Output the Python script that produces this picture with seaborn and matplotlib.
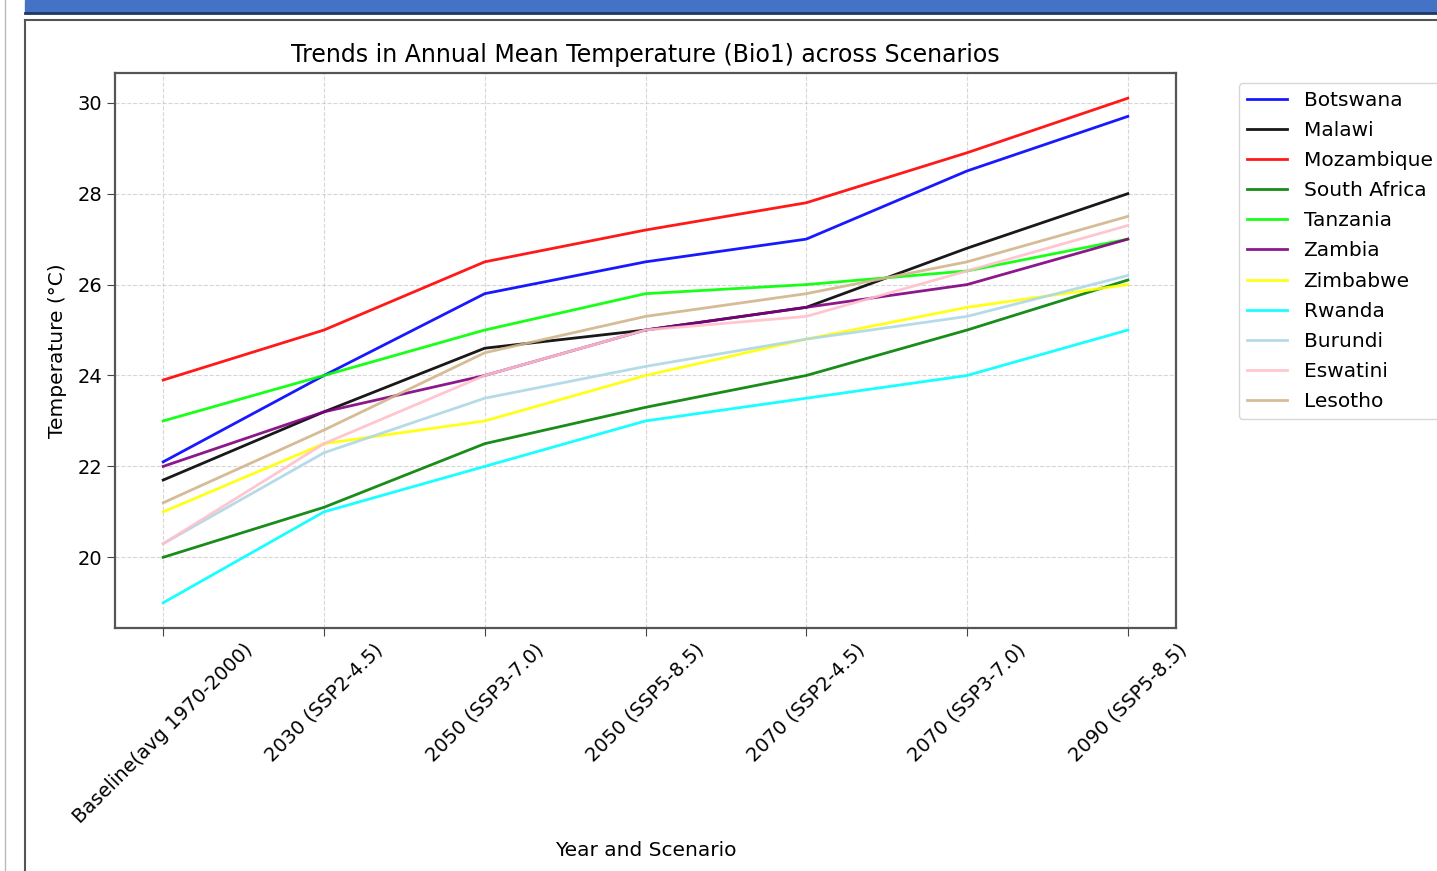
import matplotlib
matplotlib.use("Agg")
import matplotlib.pyplot as plt
import matplotlib.patches as mpatches
import pandas as pd
import seaborn as sns

# scenarios on the x axis
scenarios = ["Baseline(avg 1970-2000)", "2030 (SSP2-4.5)", "2050 (SSP3-7.0)",
             "2050 (SSP5-8.5)", "2070 (SSP2-4.5)", "2070 (SSP3-7.0)", "2090 (SSP5-8.5)"]

# annual mean temperature (Bio1), degC
botswana     = [22.1, 24.0, 25.8, 26.5, 27.0, 28.5, 29.7]
malawi       = [21.7, 23.2, 24.6, 25.0, 25.5, 26.8, 28.0]
mozambique   = [23.9, 25.0, 26.5, 27.2, 27.8, 28.9, 30.1]
south_africa = [20.0, 21.1, 22.5, 23.3, 24.0, 25.0, 26.1]
tanzania     = [23.0, 24.0, 25.0, 25.8, 26.0, 26.3, 27.0]
zambia       = [22.0, 23.2, 24.0, 25.0, 25.5, 26.0, 27.0]
zimbabwe     = [21.0, 22.5, 23.0, 24.0, 24.8, 25.5, 26.0]
rwanda       = [19.0, 21.0, 22.0, 23.0, 23.5, 24.0, 25.0]
burundi      = [20.3, 22.3, 23.5, 24.2, 24.8, 25.3, 26.2]
eswatini     = [20.3, 22.5, 24.0, 25.0, 25.3, 26.3, 27.3]
lesotho      = [21.2, 22.8, 24.5, 25.3, 25.8, 26.5, 27.5]

countries = ["Botswana", "Malawi", "Mozambique", "South Africa", "Tanzania", "Zambia",
             "Zimbabwe", "Rwanda", "Burundi", "Eswatini", "Lesotho"]
series = [botswana, malawi, mozambique, south_africa, tanzania, zambia,
          zimbabwe, rwanda, burundi, eswatini, lesotho]
colors = ["blue", "black", "red", "green", "lime", "purple",
          "yellow", "cyan", "lightblue", "pink", "tan"]

rows = []
for c, vals in zip(countries, series):
    for s, v in zip(scenarios, vals):
        rows.append({"Scenario": s, "Temperature": v, "Country": c})
df = pd.DataFrame(rows)

fig = plt.figure(figsize=(14.37, 8.71), dpi=100)

# screenshot window bits
fig.patches.append(mpatches.Rectangle((25 / 1437, 1 - 12 / 871), 1 - 25 / 1437, 12 / 871,
                                      transform=fig.transFigure, color="#4472c4", zorder=0))
fig.add_artist(plt.Line2D([25 / 1437, 1], [1 - 13 / 871, 1 - 13 / 871],
                          transform=fig.transFigure, color="#1f3864", lw=2))
fig.add_artist(plt.Line2D([25 / 1437, 1], [1 - 20 / 871, 1 - 20 / 871],
                          transform=fig.transFigure, color="#555555", lw=1.5))
fig.add_artist(plt.Line2D([25 / 1437, 25 / 1437], [0, 1 - 20 / 871],
                          transform=fig.transFigure, color="#555555", lw=1.5))
fig.add_artist(plt.Line2D([5 / 1437, 5 / 1437], [0, 1],
                          transform=fig.transFigure, color="#bbbbbb", lw=1))

ax = fig.add_axes([0.0800, 0.2790, 0.7384, 0.6372])
sns.lineplot(data=df, x="Scenario", y="Temperature", hue="Country",
             palette=dict(zip(countries, colors)), sort=False, errorbar=None,
             linewidth=2, alpha=0.9, ax=ax)

ax.set_title("Trends in Annual Mean Temperature (Bio1) across Scenarios", fontsize=17, pad=8)
ax.set_xlabel("Year and Scenario", fontsize=14.5, labelpad=10)
ax.set_ylabel("Temperature (°C)", fontsize=14.5, labelpad=8)
ax.tick_params(axis="both", labelsize=14, length=5.5, color="#444444")
plt.setp(ax.get_xticklabels(), rotation=45)
ax.grid(True, linestyle="--", alpha=0.5)
for sp in ax.spines.values():
    sp.set_color("#555555")
    sp.set_linewidth(1.6)
ax.legend(bbox_to_anchor=(1.05, 1), loc="upper left", fontsize=14.5, labelspacing=0.55)

fig.savefig("out.png", dpi=100)
